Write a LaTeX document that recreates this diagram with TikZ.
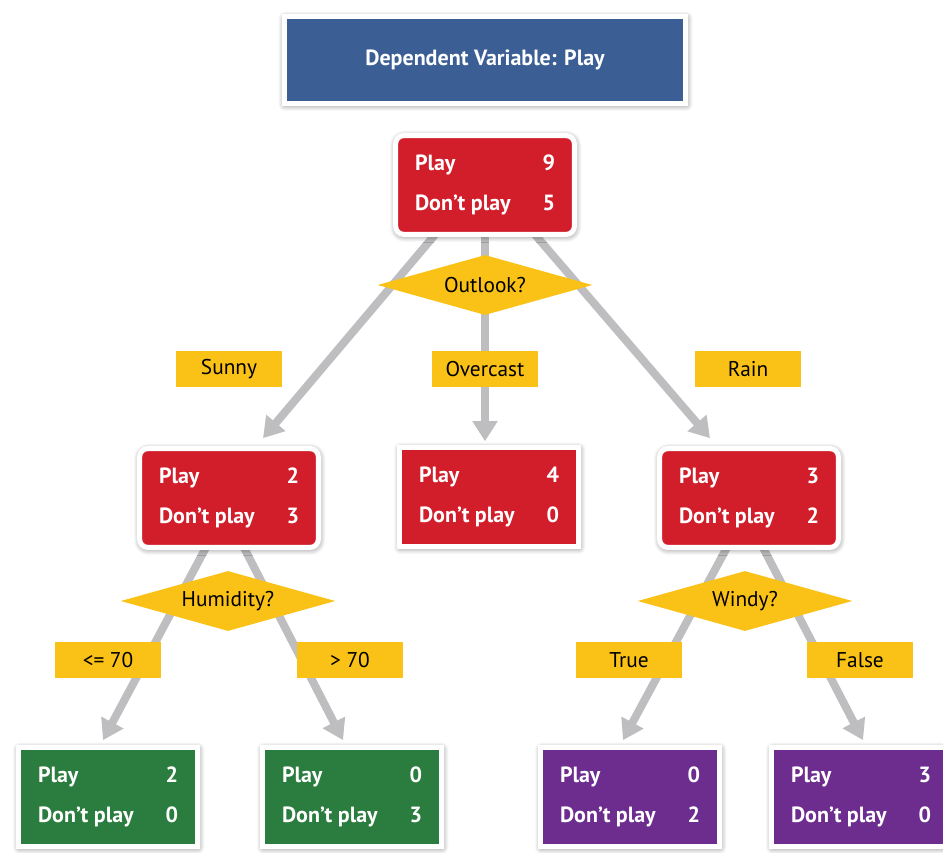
\documentclass[tikz,border=0pt]{standalone}
\usepackage{fontspec}
\setmainfont{PT Sans}
\usetikzlibrary{shapes.geometric,arrows.meta,shadows.blur,backgrounds}
\definecolor{titleblue}{RGB}{59,94,149}
\definecolor{splitred}{RGB}{209,30,42}
\definecolor{leafgreen}{RGB}{42,125,62}
\definecolor{leafpurple}{RGB}{108,45,143}
\definecolor{testyellow}{RGB}{250,193,22}
\definecolor{edgegray}{RGB}{190,190,192}
\newcommand{\tally}[2]{\parbox{105pt}{\fontsize{16.5}{30}\selectfont Play\hfill #1\\Don’t play\hfill #2}}
\begin{document}
\begin{tikzpicture}[x=0.75pt, y=-0.75pt,
  box/.style={draw=white, line width=3.75pt, minimum width=134pt, minimum height=74pt, inner sep=0pt, text=white, font=\bfseries,
    blur shadow={shadow xshift=0.5pt, shadow yshift=-1pt, shadow blur radius=5pt, shadow blur steps=8, shadow opacity=55}},
  split/.style={box, fill=splitred, rounded corners=6pt},
  test/.style={diamond, shape aspect=3.58, fill=testyellow, minimum width=161pt, minimum height=45pt, inner sep=0pt, font=\fontsize{16}{18}\selectfont},
  branch/.style={fill=testyellow, minimum width=79pt, minimum height=27pt, inner sep=0pt, font=\fontsize{16}{18}\selectfont},
  edge/.style={draw=edgegray, line width=6pt, -{Triangle[length=15pt,width=18pt]}}]
\useasboundingbox (0,0) rectangle (943,853);

\node (title) at (485,60) [box, fill=titleblue, minimum width=301pt, minimum height=65pt, font=\bfseries\fontsize{16.5}{18}\selectfont] {Dependent Variable: Play};

\node (root) at (485,185) [split] {\tally{9}{5}};
\node (outlook) at (485,285) [test] {Outlook?};
\node (sunny) at (229,369) [branch] {Sunny};
\node (overcast) at (485,369) [branch] {Overcast};
\node (rain) at (748,369) [branch] {Rain};

\node (midL) at (229,498) [split] {\tally{2}{3}};
\node (midC) at (489,497) [box, fill=splitred] {\tally{4}{0}};
\node (midR) at (749,498) [split] {\tally{3}{2}};

\node (humidity) at (228,601) [test] {Humidity?};
\node (windy) at (745,601) [test] {Windy?};
\node (le70) at (108,660) [branch] {<= 70};
\node (gt70) at (350,660) [branch] {> 70};
\node (true) at (629,660) [branch] {True};
\node (false) at (860,660) [branch] {False};

\node (leafA) at (108,797) [box, fill=leafgreen] {\tally{2}{0}};
\node (leafB) at (352,797) [box, fill=leafgreen] {\tally{0}{3}};
\node (leafC) at (630,797) [box, fill=leafpurple] {\tally{0}{2}};
\node (leafD) at (861,797) [box, fill=leafpurple] {\tally{3}{0}};

\begin{scope}[on background layer]
\draw[edge] ([xshift=-33.75pt,yshift=6pt]root.south) to ([xshift=25.5pt,yshift=6pt]midL.north);
\draw[edge] ([yshift=6pt]root.south) to ([xshift=-3pt,yshift=3pt]midC.north);
\draw[edge] ([xshift=33.75pt,yshift=6pt]root.south) to ([xshift=-29.25pt,yshift=6pt]midR.north);
\draw[edge] ([xshift=-15pt,yshift=6pt]midL.south) to ([xshift=-3.75pt,yshift=3.75pt]leafA.north);
\draw[edge] ([xshift=9pt,yshift=6pt]midL.south) to ([xshift=-6.75pt,yshift=3.75pt]leafB.north);
\draw[edge] ([xshift=-14.25pt,yshift=6pt]midR.south) to ([xshift=-5.25pt,yshift=3.75pt]leafC.north);
\draw[edge] ([xshift=8.25pt,yshift=6pt]midR.south) to ([xshift=1.5pt,yshift=3.75pt]leafD.north);
\end{scope}
\end{tikzpicture}
\end{document}
